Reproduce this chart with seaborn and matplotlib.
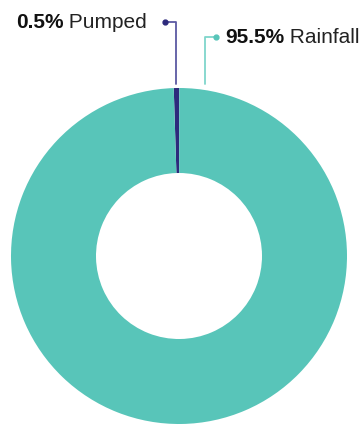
import matplotlib
matplotlib.use("Agg")
import matplotlib.pyplot as plt
import seaborn as sns

# data
labels = ["Pumped", "Rainfall"]
shares = [0.5, 95.5]
colors = ["#2d2a7c", "#58c5b9"]
line_colors = ["#5c59a3", "#7fd5cb"]

sns.set_theme(style="white")
plt.rcParams["font.family"] = ["Liberation Sans", "DejaVu Sans"]

W, H = 359, 425
fig = plt.figure(figsize=(W / 100, H / 100), dpi=100)
ax = fig.add_axes([0, 0, 1, 1])


def py(y):
    # pixel row (from top) -> data y
    return H - y


# donut, pumped sliver sits at 12 o'clock
cx, cy, r = 179, py(256), 168
ax.pie(shares, colors=colors, startangle=91.8, counterclock=False,
       center=(cx, cy), radius=r, frame=True,
       wedgeprops=dict(width=85, linewidth=0))
ax.set_xlim(0, W)
ax.set_ylim(0, H)
ax.set_aspect("equal")
ax.axis("off")

fs = 15
fig.canvas.draw()
rend = fig.canvas.get_renderer()


def label_pair(x, y, bold, normal, align):
    # bold value + regular name, placed in a row
    b = ax.text(0, py(y), bold, fontsize=fs, fontweight="bold", color="#111111",
                va="center", ha="left")
    n = ax.text(0, py(y), " " + normal, fontsize=fs, color="#222222",
                va="center", ha="left")
    inv = ax.transData.inverted()
    bw = inv.transform(b.get_window_extent(rend))[:, 0]
    nw = inv.transform(n.get_window_extent(rend))[:, 0]
    bw, nw = bw[1] - bw[0], nw[1] - nw[0]
    x0 = x if align == "left" else x - bw - nw
    b.set_x(x0)
    n.set_x(x0 + bw)


# Pumped
ax.plot([176, 176, 165], [py(84), py(22), py(22)], color=line_colors[0], lw=1.3)
ax.plot(165, py(22), "o", color=colors[0], ms=3.5)
label_pair(147, 22, f"{shares[0]}%", labels[0], "right")

# Rainfall
ax.plot([205, 205, 216], [py(84), py(37), py(37)], color=line_colors[1], lw=1.3)
ax.plot(216, py(37), "o", color=colors[1], ms=3.5)
label_pair(225, 37, f"{shares[1]}%", labels[1], "left")

fig.savefig("out.png", dpi=100)
